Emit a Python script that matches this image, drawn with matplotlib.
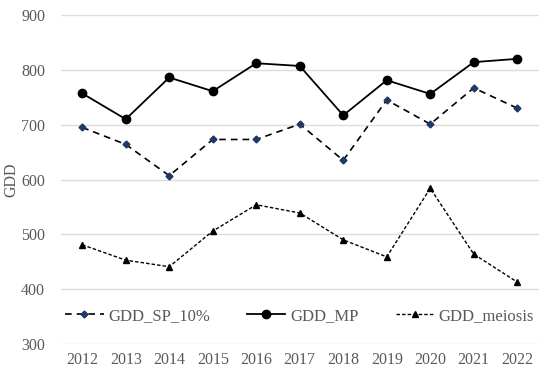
import matplotlib
matplotlib.use("Agg")
import matplotlib.pyplot as plt

years = [2012, 2013, 2014, 2015, 2016, 2017, 2018, 2019, 2020, 2021, 2022]
gdd_sp10 = [695, 664, 607, 673, 673, 701, 635, 745, 701, 767, 730]
gdd_mp = [757, 710, 786, 761, 812, 807, 717, 781, 756, 814, 820]
gdd_meiosis = [481, 453, 441, 506, 554, 539, 490, 459, 584, 464, 413]
yticks = [300, 400, 500, 600, 700, 800, 900]

plt.rcParams['font.family'] = ['Liberation Serif', 'DejaVu Serif']

fig = plt.figure(figsize=(5.5, 3.74), dpi=100)
ax = fig.add_axes([0.11, 0.08, 0.87, 0.88])
x = list(range(len(years)))

ax.plot(x, gdd_sp10, linestyle=(0, (4, 3)), color='black', lw=1.2,
        marker='D', markersize=3.5, markerfacecolor='#1f3864', markeredgecolor='#1f3864',
        label='GDD_SP_10%')
ax.plot(x, gdd_mp, linestyle='-', color='black', lw=1.3,
        marker='o', markersize=6, label='GDD_MP')
ax.plot(x, gdd_meiosis, linestyle=(0, (2.5, 1.5)), color='black', lw=1.0,
        marker='^', markersize=4, label='GDD_meiosis')

ax.set_ylim(300, 900)
ax.set_yticks(yticks)
ax.set_xticks(x)
ax.set_xticklabels([str(y) for y in years])
ax.set_xlim(-0.5, len(years) - 0.5)
ax.grid(axis='y', color='#dcdcdc', lw=1)
ax.set_axisbelow(True)
for s in ax.spines.values():
    s.set_visible(False)
ax.tick_params(length=0, labelsize=11.5, colors='#595959')
ax.tick_params(axis='y', pad=11)
ax.tick_params(axis='x', pad=6)
ax.set_ylabel('GDD', fontsize=11.5, color='#595959')
ax.yaxis.set_label_coords(-0.086, 0.5)
leg = ax.legend(loc='center', bbox_to_anchor=(0.5, 0.085), ncol=3, frameon=False,
                fontsize=12, handlelength=2.3, handletextpad=0.3, columnspacing=2.2)
for t in leg.get_texts():
    t.set_color('#595959')

fig.savefig('out.png', dpi=100)
